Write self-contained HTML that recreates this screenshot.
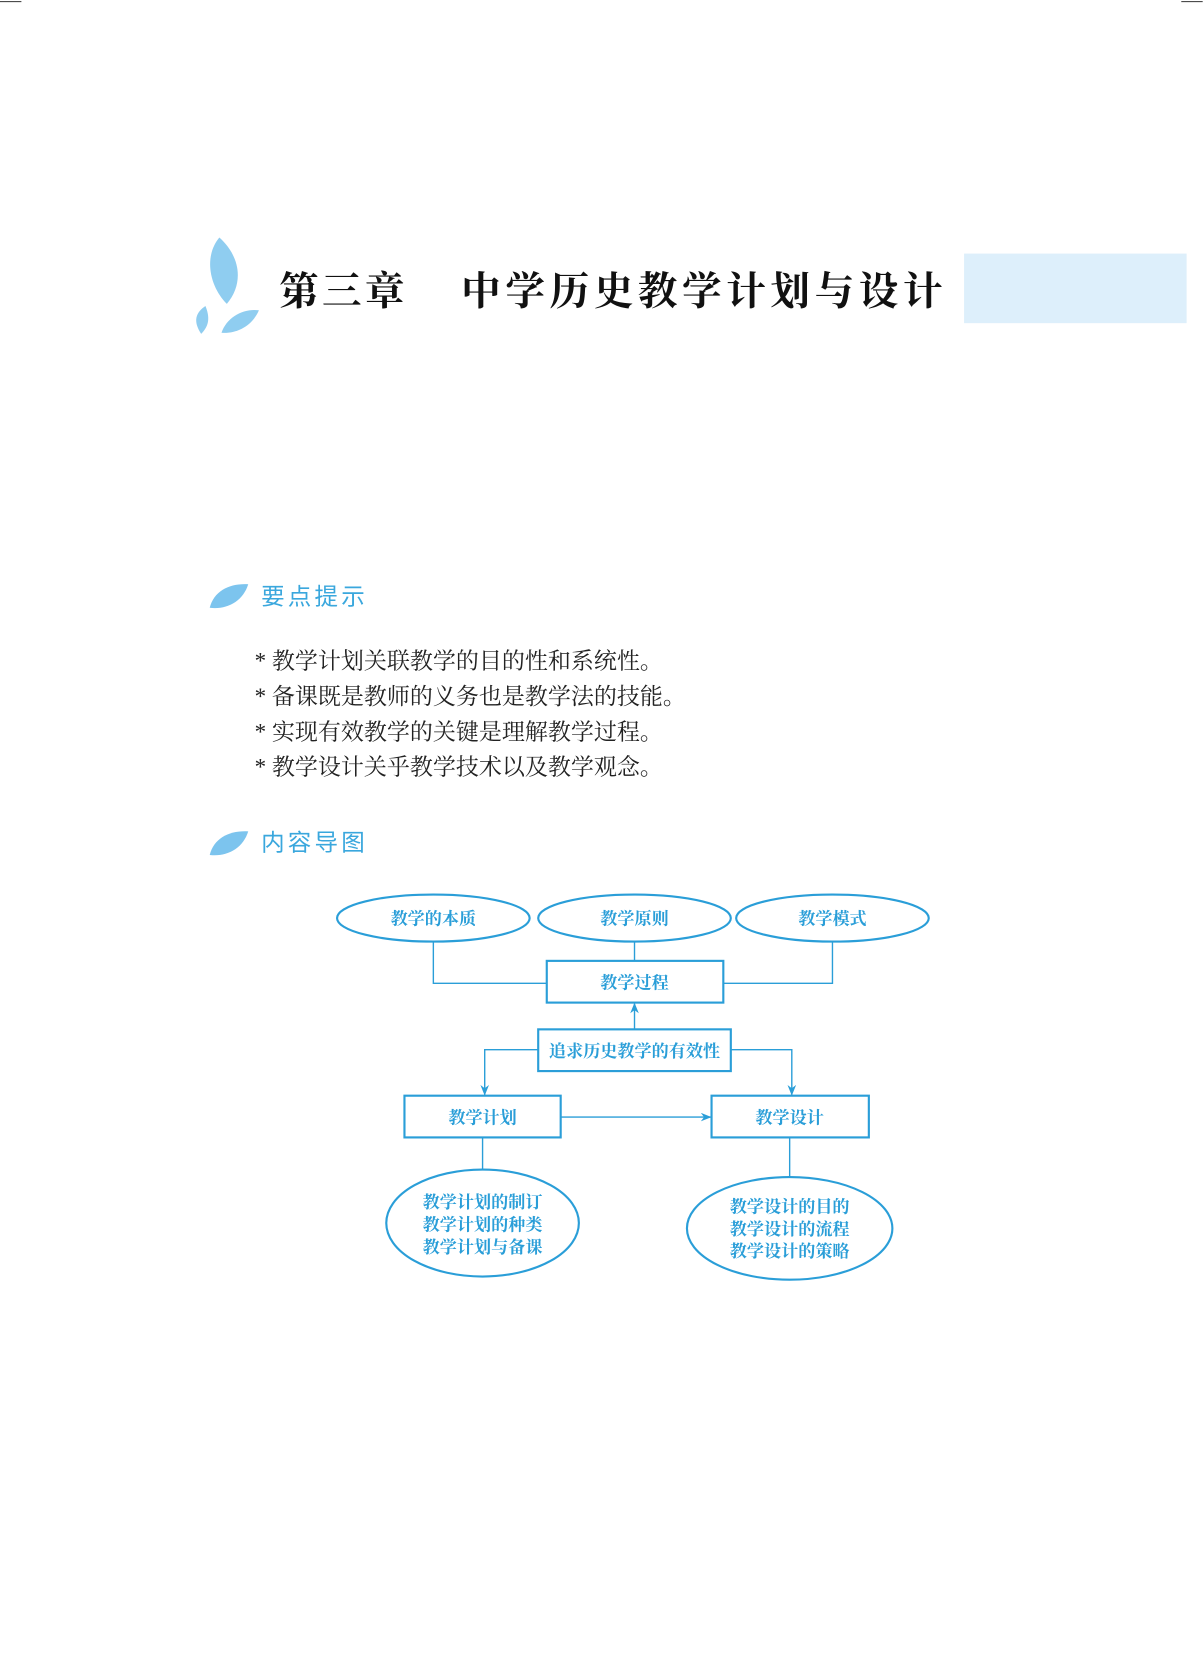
<!DOCTYPE html>
<html><head><meta charset="utf-8">
<style>
html,body{margin:0;padding:0;background:#fff;}
svg{display:block;}
</style></head>
<body>
<svg width="1203" height="1675" viewBox="0 0 1124.3 1565.4" xmlns="http://www.w3.org/2000/svg">
<rect width="1124.3" height="1565.4" fill="#fff"/>
<line x1="0" y1="1.5" x2="20" y2="1.5" stroke="#333" stroke-width="1"/>
<line x1="1104" y1="1.5" x2="1124" y2="1.5" stroke="#333" stroke-width="1"/>
<path d="M205 222 C225 240 228 265 212 284 C196 268 190 240 205 222Z" fill="#8fcdf0"/>
<path d="M188 312 C180 300 183 292 192 286 C196 296 196 304 188 312Z" fill="#8fcdf0"/>
<path d="M207 311 C212 296 228 288 242 290 C236 304 222 312 207 311Z" fill="#8fcdf0"/>
<rect x="901" y="237" width="208" height="65" fill="#ddeffb"/>
<text x="261" y="285" font-family="'Noto Serif CJK SC',serif" font-weight="bold" font-size="37" fill="#111" letter-spacing="3">第三章</text>
<text x="431" y="285" font-family="'Noto Serif CJK SC',serif" font-weight="bold" font-size="37" fill="#111" letter-spacing="4.3">中学历史教学计划与设计</text>
<path d="M196 568 C200 552 215 545 232 546 C227 562 212 570 196 568Z" fill="#7cc4ee"/>
<text x="244" y="565" font-family="'Noto Sans CJK SC',sans-serif" font-size="22" fill="#3aa7dd" letter-spacing="3">要点提示</text>
<g font-family="'Liberation Serif','Noto Serif CJK SC',serif" font-size="21.5" fill="#222">
<text x="238" y="625">* 教学计划关联教学的目的性和系统性。</text>
<text x="238" y="658">* 备课既是教师的义务也是教学法的技能。</text>
<text x="238" y="691">* 实现有效教学的关键是理解教学过程。</text>
<text x="238" y="724">* 教学设计关乎教学技术以及教学观念。</text>
</g>
<path d="M196 799 C200 783 215 776 232 777 C227 793 212 801 196 799Z" fill="#7cc4ee"/>
<text x="244" y="795" font-family="'Noto Sans CJK SC',sans-serif" font-size="22" fill="#3aa7dd" letter-spacing="3">内容导图</text>
<defs><marker id="a" markerWidth="10" markerHeight="8" refX="9" refY="4" orient="auto" markerUnits="userSpaceOnUse"><path d="M0 0 L10 4 L0 8 L3 4Z" fill="#2a9ed8"/></marker></defs>
<g stroke="#2a9ed8" fill="none" stroke-width="1.3">
<ellipse cx="405" cy="858" rx="90" ry="22" stroke-width="2"/>
<ellipse cx="593" cy="858" rx="90" ry="22" stroke-width="2"/>
<ellipse cx="778" cy="858" rx="90" ry="22" stroke-width="2"/>
<rect x="511" y="898" width="165" height="39" stroke-width="2"/>
<rect x="503" y="962" width="180" height="39" stroke-width="2"/>
<rect x="378" y="1024" width="146" height="39" stroke-width="2"/>
<rect x="665" y="1024" width="147" height="39" stroke-width="2"/>
<ellipse cx="451" cy="1143" rx="90" ry="50" stroke-width="2"/>
<ellipse cx="738" cy="1148" rx="96" ry="48" stroke-width="2"/>
<polyline points="405,880 405,919 511,919"/>
<polyline points="778,880 778,919 676,919"/>
<line x1="593" y1="880" x2="593" y2="898"/>
<line x1="593" y1="962" x2="593" y2="938" marker-end="url(#a)"/>
<polyline points="503,981 453,981 453,1023" marker-end="url(#a)"/>
<polyline points="683,981 740,981 740,1023" marker-end="url(#a)"/>
<line x1="524" y1="1044" x2="664" y2="1044" marker-end="url(#a)"/>
<line x1="451" y1="1063" x2="451" y2="1093"/>
<line x1="738" y1="1063" x2="738" y2="1100"/>
</g>
<g font-family="'Noto Serif CJK SC',serif" font-size="16" font-weight="bold" fill="#2a9ed8" text-anchor="middle">
<text x="405" y="864">教学的本质</text>
<text x="593" y="864">教学原则</text>
<text x="778" y="864">教学模式</text>
<text x="593" y="924">教学过程</text>
<text x="593" y="988">追求历史教学的有效性</text>
<text x="451" y="1050">教学计划</text>
<text x="738" y="1050">教学设计</text>
<text x="451" y="1129">教学计划的制订</text>
<text x="451" y="1150">教学计划的种类</text>
<text x="451" y="1171">教学计划与备课</text>
<text x="738" y="1133">教学设计的目的</text>
<text x="738" y="1154">教学设计的流程</text>
<text x="738" y="1175">教学设计的策略</text>
</g>
</svg>
</body></html>
